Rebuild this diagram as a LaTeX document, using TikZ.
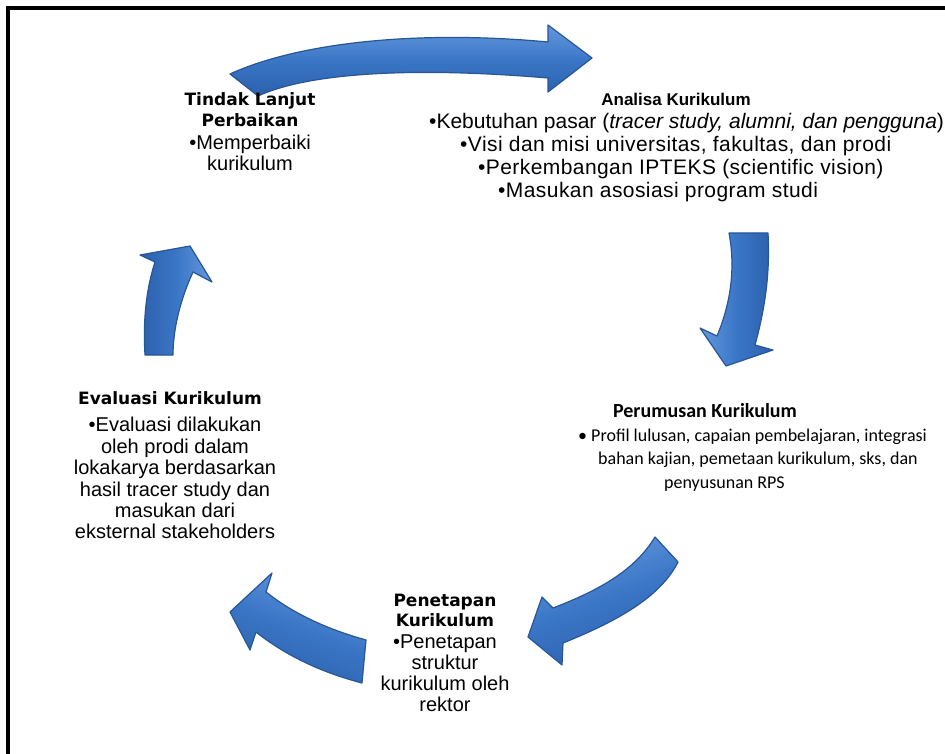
\documentclass[tikz,border=0pt]{standalone}
\usepackage{fontspec}
\setmainfont{Liberation Sans}
\newfontfamily\headfont{DejaVu Sans}
\newfontfamily\calfont{Carlito}
\newfontfamily\widefont{Liberation Sans}[LetterSpace=2.0]
\definecolor{arrowfill}{RGB}{58,118,198}
\definecolor{arrowedge}{RGB}{40,86,150}
\definecolor{arrowlight}{RGB}{100,152,222}
\definecolor{arrowdark}{RGB}{44,96,172}
\tikzset{
  blockarrow/.style={draw=arrowedge, line width=1.2pt, line join=round,
     top color=arrowlight, bottom color=arrowdark, middle color=arrowfill},
  hdtext/.style={font={\headfont\bfseries\fontsize{17}{20}\selectfont}, inner sep=0pt, anchor=base},
  hdarial/.style={font={\bfseries\fontsize{17}{20}\selectfont}, inner sep=0pt, anchor=base},
  hdcal/.style={font={\calfont\bfseries\fontsize{20}{22}\selectfont}, inner sep=0pt, anchor=base},
  bdtext/.style={font={\fontsize{20}{21}\selectfont}, inner sep=0pt, anchor=base},
  bdwide/.style={font={\widefont\fontsize{21}{22}\selectfont}, inner sep=0pt, anchor=base west},
  bdplain/.style={font={\fontsize{21}{22}\selectfont}, inner sep=0pt, anchor=base west},
  bdcal/.style={font={\calfont\fontsize{18}{21}\selectfont}, inner sep=0pt, anchor=base west},
}
\begin{document}
\begin{tikzpicture}[x=1pt,y=-1pt]
\useasboundingbox (0,0) rectangle (945,754);
\fill[white] (0,0) rectangle (945,754);
% frame
\draw[line width=4pt] (8,754) -- (8,8) -- (945,8);

% top arrow (Tindak Lanjut -> Analisa)
\draw[blockarrow, shading angle=0] (230,74) .. controls (300,42) and (420,30) .. (548,42)
  -- (548,25) -- (592,58) -- (548,92) -- (548,78)
  .. controls (430,68) and (315,70) .. (258,96) -- cycle;
% right arrow (Analisa -> Perumusan)
\draw[blockarrow, shading angle=90] (729,233) .. controls (736,270) and (730,305) .. (717,336)
  -- (700,328) -- (726,366) -- (773,350) -- (755,345)
  .. controls (766,305) and (770,270) .. (768,233) -- cycle;
% bottom-right arrow (Perumusan -> Penetapan)
\draw[blockarrow, shading angle=20] (655,537) .. controls (635,570) and (600,590) .. (553,608)
  -- (542,597) -- (528,637) -- (562,665) -- (563,643)
  .. controls (615,622) and (660,598) .. (678,562) -- cycle;
% bottom-left arrow (Penetapan -> Evaluasi)
\draw[blockarrow, shading angle=-20] (366,640) .. controls (330,630) and (295,615) .. (266,592)
  -- (272,573) -- (230,612) -- (250,650) -- (256,632)
  .. controls (285,655) and (320,672) .. (362,683) -- cycle;
% left arrow (Evaluasi -> Tindak Lanjut)
\draw[blockarrow, shading angle=-90] (145,355) .. controls (143,320) and (146,290) .. (155,262)
  -- (140,255) -- (190,246) -- (212,282) -- (193,272)
  .. controls (180,300) and (173,330) .. (173,355) -- cycle;

% Tindak Lanjut Perbaikan
\node[hdtext] (t1) at (250,106) {Tindak Lanjut};
\node[hdtext] (t2) at (250,127) {Perbaikan};
\node[bdtext] (t3) at (250,150) {•Memperbaiki};
\node[bdtext] (t4) at (250,171) {kurikulum};

% Analisa Kurikulum
\node[hdarial] (a0) at (676,106) {Analisa Kurikulum};
\node[bdplain] (a1) at (429,129) {•Kebutuhan pasar (\textit{tracer study, alumni,  dan pengguna})};
\node[bdwide] (a2) at (460,152) {•Visi dan misi universitas, fakultas, dan prodi};
\node[bdwide] (a3) at (478,175) {•Perkembangan IPTEKS (scientific vision)};
\node[bdwide] (a4) at (498,198) {•Masukan asosiasi program studi};

% Perumusan Kurikulum
\node[hdcal] (p0) at (705,417) {Perumusan Kurikulum};
\node[bdcal] (p1) at (578,441) {• Profil lulusan, capaian pembelajaran, integrasi};
\node[bdcal] (p2) at (598,464) {bahan kajian, pemetaan kurikulum, sks, dan};
\node[bdcal] (p3) at (664,488) {penyusunan RPS};

% Penetapan Kurikulum
\node[hdtext] (k1) at (445,606) {Penetapan};
\node[hdtext] (k2) at (445,626) {Kurikulum};
\node[bdtext] (k3) at (445,648) {•Penetapan};
\node[bdtext] (k4) at (445,669) {struktur};
\node[bdtext] (k5) at (445,690) {kurikulum oleh};
\node[bdtext] (k6) at (445,711) {rektor};

% Evaluasi Kurikulum
\node[hdtext] (e0) at (170,404) {Evaluasi Kurikulum};
\node[bdtext] (e1) at (175,431) {•Evaluasi dilakukan};
\node[bdtext] (e2) at (175,453) {oleh prodi dalam};
\node[bdtext] (e3) at (175,474) {lokakarya berdasarkan};
\node[bdtext] (e4) at (175,496) {hasil tracer study dan};
\node[bdtext] (e5) at (175,517) {masukan dari};
\node[bdtext] (e6) at (175,538) {eksternal stakeholders};
\end{tikzpicture}
\end{document}
